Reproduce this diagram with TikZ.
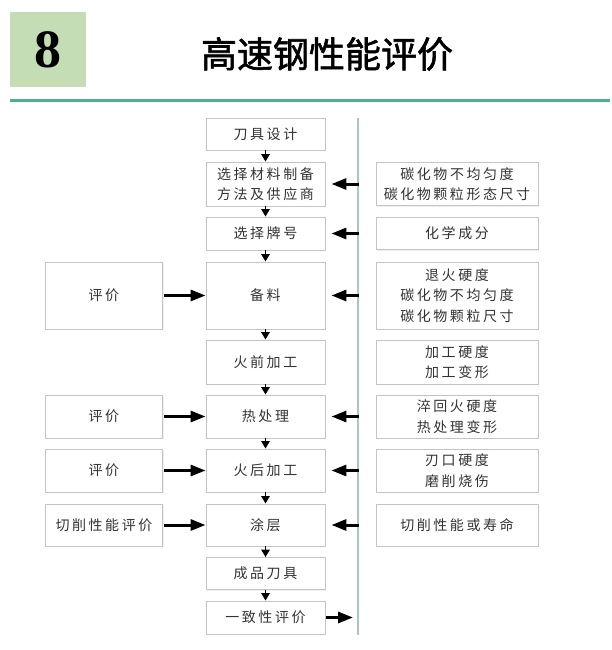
\documentclass[tikz,border=0pt]{standalone}
\usepackage{fontspec}
\setmainfont{Liberation Serif}
\newfontfamily\cjk[LetterSpace=18]{Noto Sans CJK SC}
\newfontfamily\titlecjk[FakeBold=1.6]{Noto Sans CJK SC}
\usetikzlibrary{arrows.meta,shadows}
\definecolor{headgreen}{HTML}{C5DDB4}
\definecolor{rulegreen}{HTML}{4FAE8E}
\definecolor{vline}{HTML}{A9C6C4}
\definecolor{boxline}{HTML}{C4C4C4}
\tikzset{
  box/.style={draw=boxline, line width=0.9pt, fill=white, inner sep=0pt, align=center,
    font=\cjk\fontsize{14}{20.5}\selectfont, text=black!80,
    drop shadow={opacity=0.12, shadow xshift=1pt, shadow yshift=-1pt}},
  harrow/.style={line width=3pt, -{Triangle[length=15pt,width=11pt]}},
  darrow/.style={line width=1.5pt, -{Triangle[length=7.5pt,width=8.5pt]}},
}
\begin{document}
\begin{tikzpicture}[x=1pt,y=-1pt]
\useasboundingbox (0,0) rectangle (612,650);
\fill[white] (0,0) rectangle (612,650);
% header
\node[fill=headgreen, minimum width=76pt, minimum height=75pt, inner sep=0pt] (num) at (48,50)
  {\fontsize{54}{54}\selectfont\bfseries 8};
\node[inner sep=0pt] (title) at (327,54) {\titlecjk\fontsize{36}{40}\selectfont 高速钢性能评价};
\draw[rulegreen, line width=2.5pt] (10,100.5) -- (610,100.5);
% vertical line
\coordinate (vt) at (358,118);
\coordinate (vb) at (358,635);
\draw[vline, line width=1.5pt] (vt) -- (vb);
% center column
\node[box, minimum width=119pt, minimum height=32pt] (c1) at (265.5,134) {刀具设计};
\node[box, minimum width=119pt, minimum height=44pt] (c2) at (265.5,184) {选择材料制备\\方法及供应商};
\node[box, minimum width=119pt, minimum height=33pt] (c3) at (265.5,233.5) {选择牌号};
\node[box, minimum width=119pt, minimum height=67pt] (c4) at (265.5,295.5) {备料};
\node[box, minimum width=119pt, minimum height=44pt] (c5) at (265.5,362) {火前加工};
\node[box, minimum width=119pt, minimum height=43pt] (c6) at (265.5,416.5) {热处理};
\node[box, minimum width=119pt, minimum height=43pt] (c7) at (265.5,470.5) {火后加工};
\node[box, minimum width=119pt, minimum height=42pt] (c8) at (265.5,525) {涂层};
\node[box, minimum width=119pt, minimum height=32pt] (c9) at (265.5,573.5) {成品刀具};
\node[box, minimum width=119pt, minimum height=33pt] (c10) at (265.5,617.5) {一致性评价};
% left column
\node[box, minimum width=117pt, minimum height=67pt] (l4) at (104,295.5) {评价};
\node[box, minimum width=117pt, minimum height=43pt] (l6) at (104,416.5) {评价};
\node[box, minimum width=117pt, minimum height=43pt] (l7) at (104,470.5) {评价};
\node[box, minimum width=117pt, minimum height=42pt] (l8) at (104,525) {切削性能评价};
% right column
\node[box, minimum width=162pt, minimum height=43pt] (r2) at (457,184) {碳化物不均匀度\\碳化物颗粒形态尺寸};
\node[box, minimum width=162pt, minimum height=32pt] (r3) at (457,233.5) {化学成分};
\node[box, minimum width=162pt, minimum height=67pt] (r4) at (457,295.5) {退火硬度\\碳化物不均匀度\\碳化物颗粒尺寸};
\node[box, minimum width=162pt, minimum height=44pt] (r5) at (457,362) {加工硬度\\加工变形};
\node[box, minimum width=162pt, minimum height=43pt] (r6) at (457,416.5) {淬回火硬度\\热处理变形};
\node[box, minimum width=162pt, minimum height=43pt] (r7) at (457,470.5) {刃口硬度\\磨削烧伤};
\node[box, minimum width=162pt, minimum height=42pt] (r8) at (457,525) {切削性能或寿命};
% down arrows
\foreach \a/\b in {c1/c2,c2/c3,c3/c4,c4/c5,c5/c6,c6/c7,c7/c8,c8/c9,c9/c10}
  \draw[darrow] (\a.south) -- (\b.north);
% arrows from the vertical line
\foreach \n/\y in {2/184,3/233.5,4/295.5,6/416.5,7/470.5,8/525}{
  \coordinate (v\n) at (359,\y);
  \draw[harrow, shorten >=6pt] (v\n) -- (c\n.east);
}
% arrows from the left boxes
\foreach \n in {4,6,7,8}
  \draw[harrow, shorten <=1pt] (l\n.east) -- (c\n.west);
% last arrow
\coordinate (endp) at (353,617.5);
\draw[harrow, shorten <=1pt] (c10.east) -- (endp);
\end{tikzpicture}
\end{document}
